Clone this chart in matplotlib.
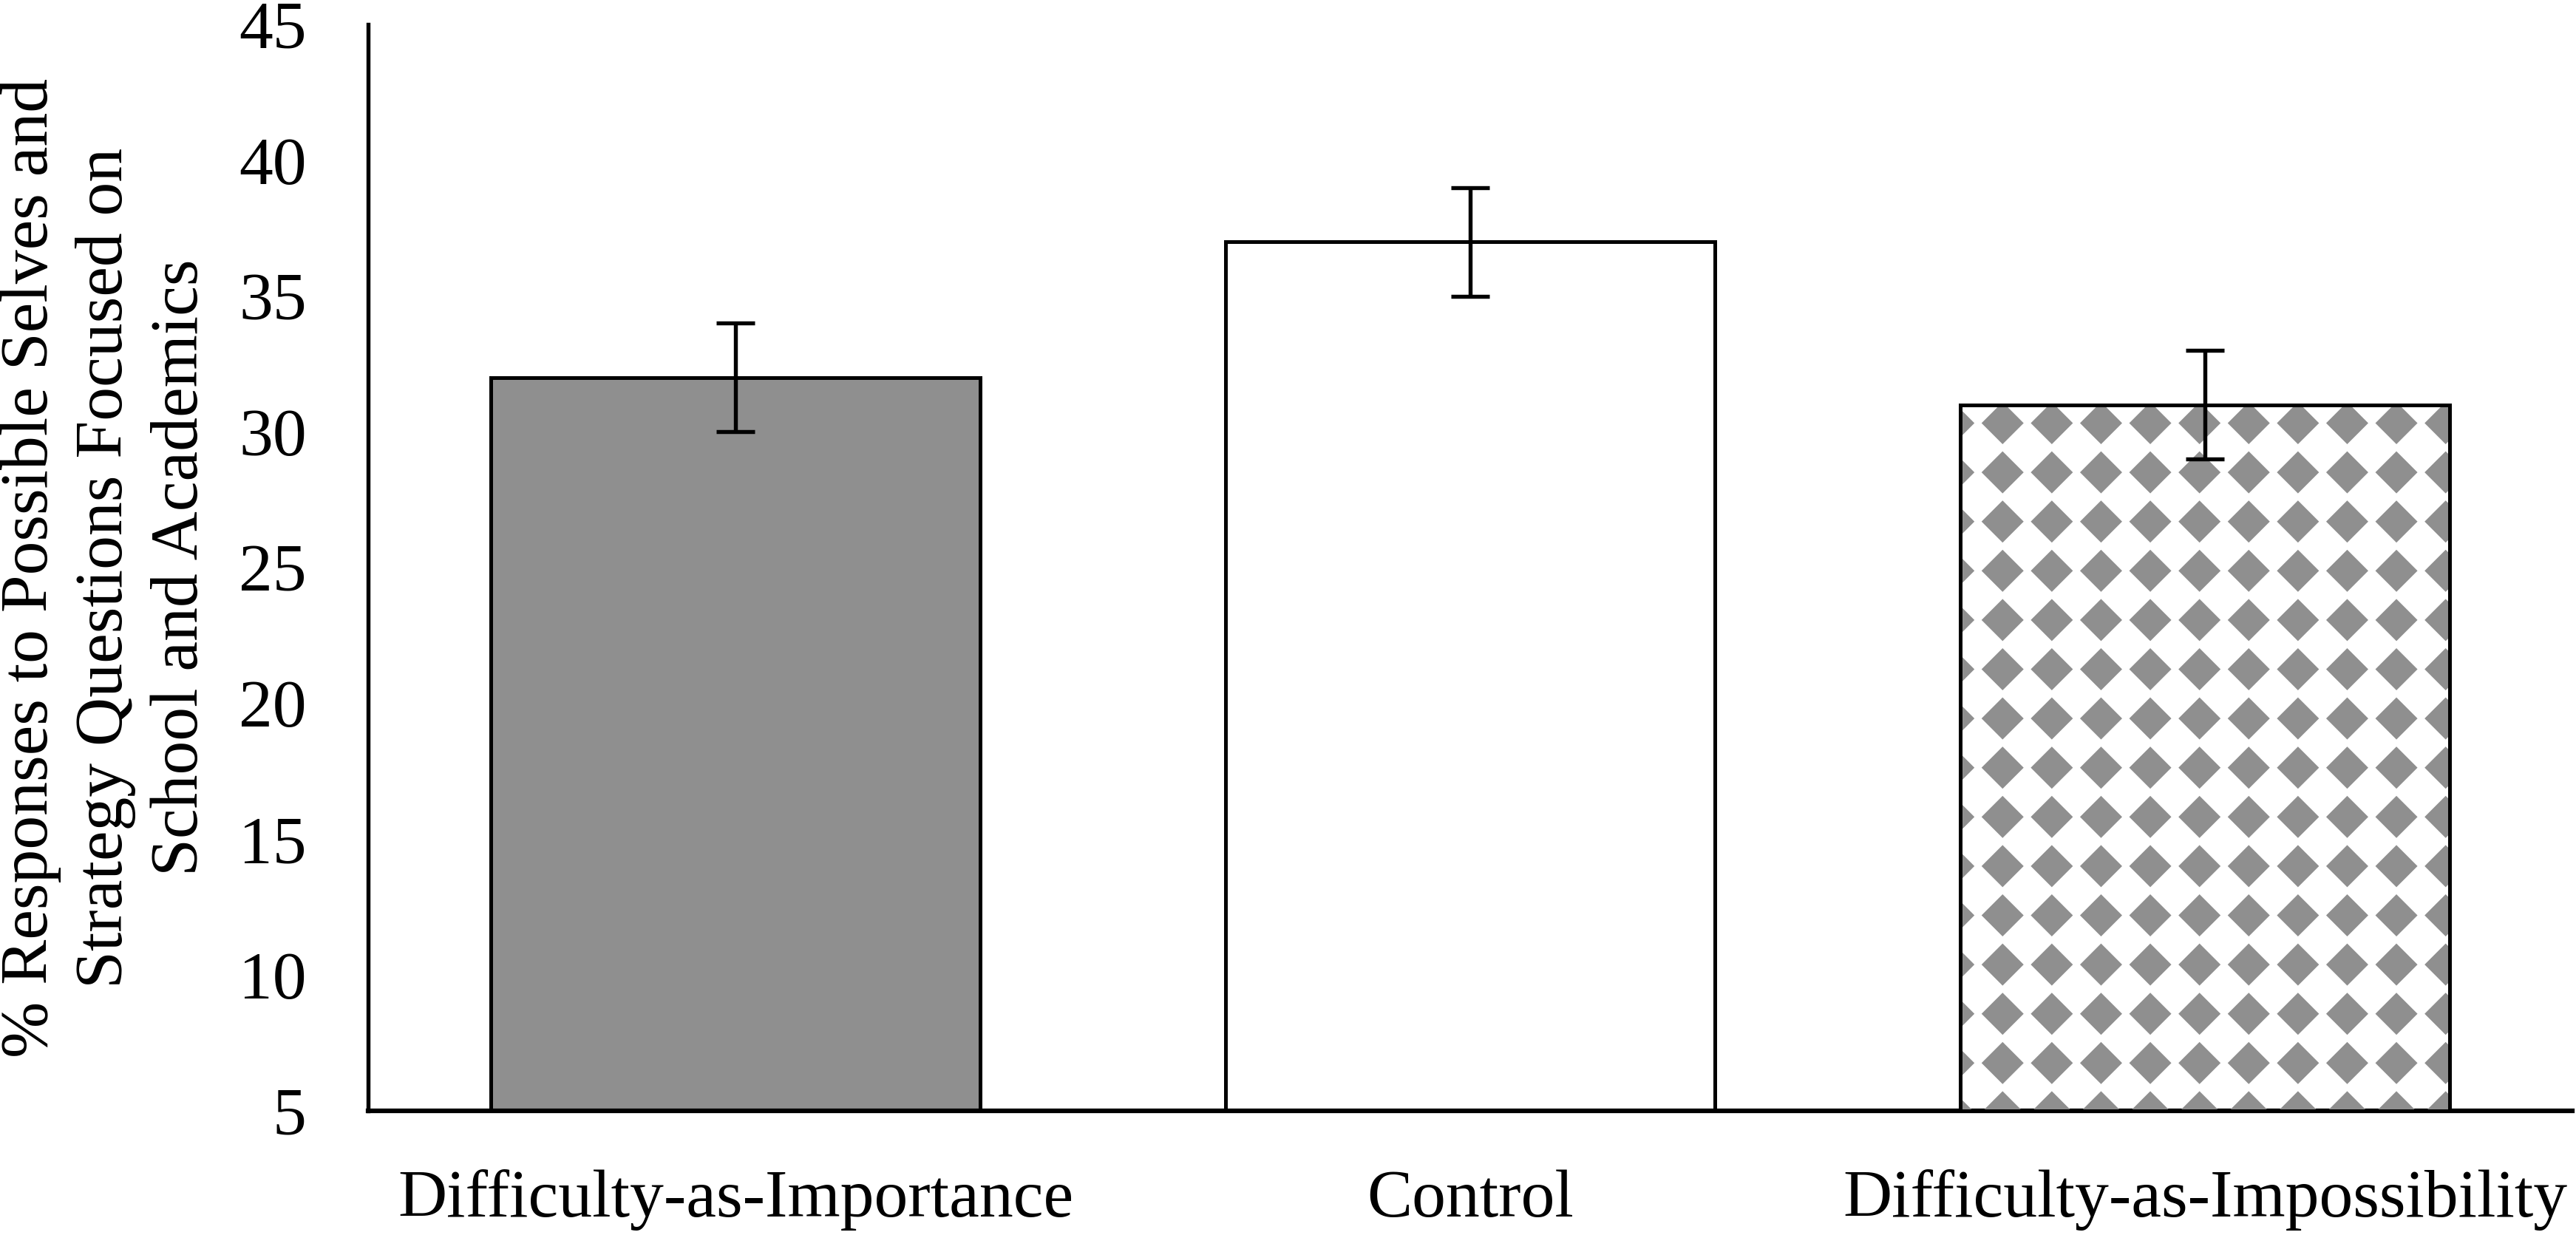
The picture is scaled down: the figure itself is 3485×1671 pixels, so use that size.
import numpy as np
import matplotlib
matplotlib.use("Agg")
import matplotlib.pyplot as plt
from matplotlib.collections import PolyCollection

# values
categories = ["Difficulty-as-Importance", "Control", "Difficulty-as-Impossibility"]
means = [32.0, 37.0, 31.0]
errors = [2.0, 2.0, 2.0]
y_ticks = [5, 10, 15, 20, 25, 30, 35, 40, 45]
y_label = ("% Responses to Possible Selves and\n"
           "Strategy Questions Focused on\n"
           "School and Academics")

GREY = "#8f8f8f"
DPI = 300

plt.rcParams["font.family"] = ["Liberation Serif", "DejaVu Serif"]
plt.rcParams["font.size"] = 22

fig = plt.figure(figsize=(3486 / DPI, 1671 / DPI), dpi=DPI)
ax = fig.add_axes([498 / 3486, 1 - 1503 / 1671, (3480 - 498) / 3486, (1503 - 33) / 1671])

x = np.arange(len(categories))
faces = [GREY, "white", "white"]
bars = ax.bar(x, [m - 5 for m in means], bottom=5, width=2 / 3,
              color=faces, edgecolor="black", linewidth=1.2, zorder=2)
ax.errorbar(x, means, yerr=errors, fmt="none", ecolor="black",
            elinewidth=1.3, capsize=6.2, capthick=1.3, zorder=5)

ax.set_xlim(-0.5, 2.5)
ax.set_ylim(5, 45)
ax.set_yticks(y_ticks)
ax.set_xticks(x)
ax.set_xticklabels(categories)
ax.tick_params(axis="both", length=0)
ax.tick_params(axis="y", pad=20)
ax.tick_params(axis="x", pad=19)
for s in ("top", "right"):
    ax.spines[s].set_visible(False)
ax.spines["left"].set_linewidth(1.3)
ax.spines["bottom"].set_linewidth(1.5)

fig.text(143 / 3486, 0.5 * (1 - 33 / 1671 + 1 - 1503 / 1671), y_label,
         rotation=90, ha="center", va="center", multialignment="center",
         linespacing=1.3)

# diamond pattern inside the third bar (drawn in pixel space, clipped to the bar)
fig.canvas.draw()
bar = bars[2]
(x0, y0), (x1, y1) = ax.transData.transform([[bar.get_x(), 5],
                                             [bar.get_x() + bar.get_width(), bar.get_height() + 5]])
step = 66.6
half = 28.5
cx = np.arange(x0 - 9, x1 + step, step)
cy = np.arange(y1 - 25, y0 - step, -step)
polys = []
for px in cx:
    for py in cy:
        polys.append([(px - half, py), (px, py + half), (px + half, py), (px, py - half)])
polys = [[(a / DPI, b / DPI) for a, b in p] for p in polys]
pc = PolyCollection(polys, facecolors=GREY, edgecolors="none",
                    transform=fig.dpi_scale_trans, zorder=3)
ax.add_collection(pc, autolim=False)
pc.set_clip_path(bar)
# redraw the bar outline on top of the pattern
ax.bar([x[2]], [means[2] - 5], bottom=5, width=2 / 3, fill=False,
       edgecolor="black", linewidth=1.2, zorder=4)

fig.savefig("out.png", dpi=DPI)
